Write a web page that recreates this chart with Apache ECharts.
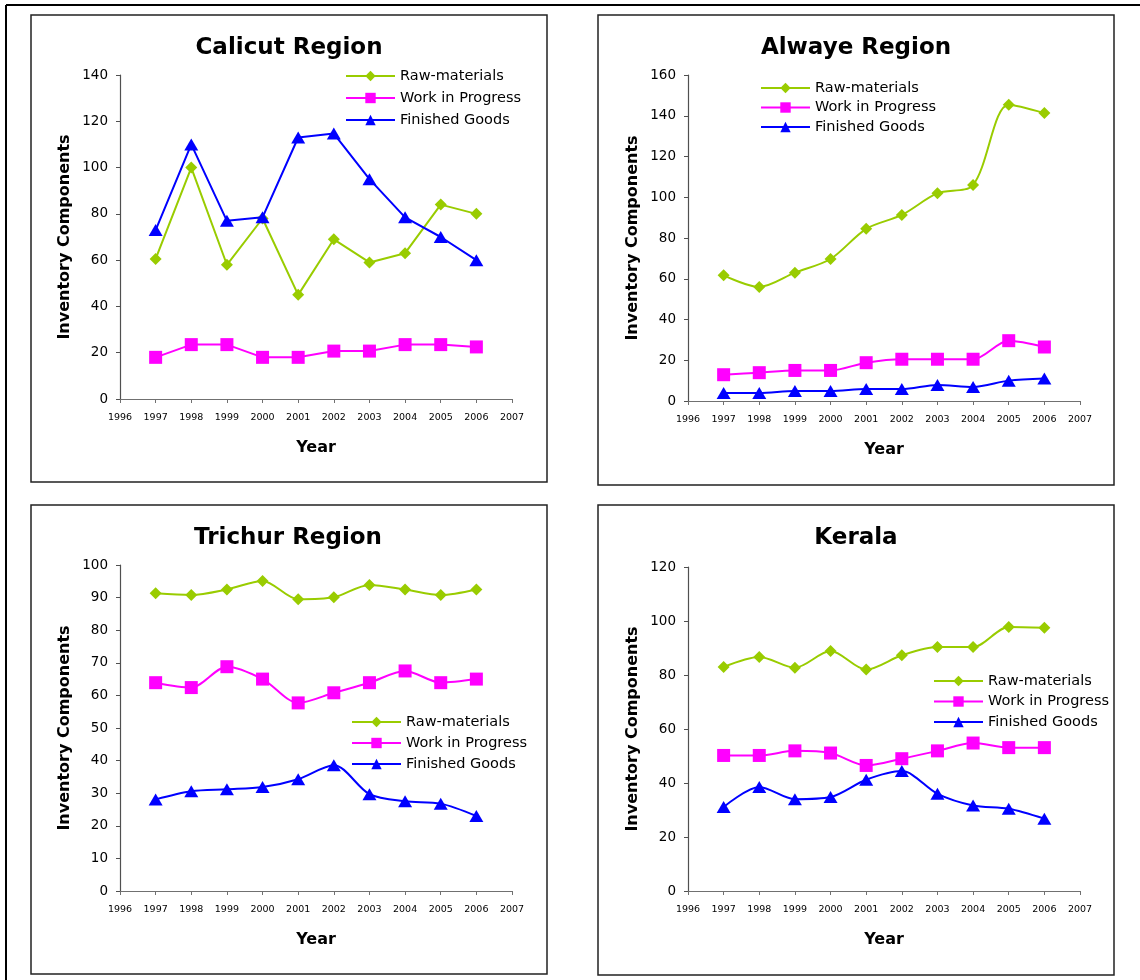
<!DOCTYPE html>
<html>
<head>
<meta charset="utf-8">
<script src="https://cdn.jsdelivr.net/npm/echarts@6/dist/echarts.min.js"></script>
<style>
  html, body { margin: 0; padding: 0; background: #ffffff; }
  #chart { width: 1140px; height: 980px; }
</style>
</head>
<body>
<div id="chart"></div>
<script>
// Years on the horizontal axis
const years = [1997, 1998, 1999, 2000, 2001, 2002, 2003, 2004, 2005, 2006];
const yearMin = 1996;
const yearMax = 2007;

// Series names
const seriesNames = ['Raw-materials', 'Work in Progress', 'Finished Goods'];

// Calicut Region
const calicutRaw = [60.5, 100, 58, 78, 45, 69, 59, 63, 84, 80];
const calicutWip = [18, 23.5, 23.5, 18, 18, 20.7, 20.7, 23.5, 23.5, 22.5];
const calicutFg  = [73, 110, 77, 78.5, 113, 114.7, 95, 78.5, 70, 60];

// Alwaye Region
const alwayeRaw = [61.7, 56, 63, 69.7, 84.5, 91.3, 102, 106, 145.4, 141.3];
const alwayeWip = [12.9, 13.9, 15, 15, 18.8, 20.5, 20.5, 20.5, 29.6, 26.5];
const alwayeFg  = [3.9, 3.9, 4.9, 4.9, 5.9, 5.9, 7.9, 6.9, 10, 11];

// Trichur Region
const trichurRaw = [91.3, 90.8, 92.5, 95.1, 89.5, 90.1, 93.9, 92.5, 90.8, 92.5];
const trichurWip = [63.9, 62.4, 68.8, 65, 57.7, 60.8, 63.9, 67.5, 63.9, 65];
const trichurFg  = [28.1, 30.6, 31.2, 31.9, 34.3, 38.6, 29.7, 27.5, 26.8, 23];

// Kerala
const keralaRaw = [83, 86.7, 82.7, 88.9, 82, 87.3, 90.4, 90.4, 97.8, 97.5];
const keralaWip = [50.2, 50.2, 51.9, 51.1, 46.5, 49, 51.9, 54.8, 53.1, 53.1];
const keralaFg  = [31.1, 38.5, 34, 34.8, 41.2, 44.4, 36, 31.7, 30.5, 26.8];

// Value axis ranges (max, step) per panel
const calicutAxis = [140, 20];
const alwayeAxis  = [160, 20];
const trichurAxis = [100, 10];
const keralaAxis  = [120, 20];

const COLORS = ['#99CC00', '#FF00FF', '#0000FF'];
const SYMBOLS = ['diamond', 'rect', 'triangle'];
const SYMBOL_SIZES = [[12, 12], [13, 13], [14, 12]];
const FONT = 'DejaVu Sans';

const panels = [
  { title: 'Calicut Region', data: [calicutRaw, calicutWip, calicutFg], axis: calicutAxis, smooth: false,
    box: [31, 15, 516, 467], grid: { left: 120, top: 75, width: 392, height: 324 },
    titlePos: [289, 48], legend: { left: 345, top: 68, gap: 6 } },
  { title: 'Alwaye Region', data: [alwayeRaw, alwayeWip, alwayeFg], axis: alwayeAxis, smooth: 0.3,
    box: [598, 15, 516, 470], grid: { left: 688, top: 75, width: 392, height: 326 },
    titlePos: [856, 48], legend: { left: 760, top: 80, gap: 3.5 } },
  { title: 'Trichur Region', data: [trichurRaw, trichurWip, trichurFg], axis: trichurAxis, smooth: 0.3,
    box: [31, 505, 516, 469], grid: { left: 120, top: 565, width: 392, height: 326 },
    titlePos: [288, 538], legend: { left: 351, top: 714, gap: 5 } },
  { title: 'Kerala', data: [keralaRaw, keralaWip, keralaFg], axis: keralaAxis, smooth: 0.3,
    box: [598, 505, 516, 470], grid: { left: 688, top: 567, width: 392, height: 324 },
    titlePos: [856, 538], legend: { left: 933, top: 673, gap: 4.5 } }
];

const option = {
  animation: false,
  backgroundColor: '#ffffff',
  title: [], grid: [], xAxis: [], yAxis: [], legend: [], series: [],
  graphic: [
    // outer frame lines
    { type: 'line', shape: { x1: 6, y1: 5, x2: 1140, y2: 5 }, style: { stroke: '#000', lineWidth: 2 }, z: 1 },
    { type: 'line', shape: { x1: 6, y1: 5, x2: 6, y2: 980 }, style: { stroke: '#000', lineWidth: 2 }, z: 1 }
  ]
};

panels.forEach((p, pi) => {
  const [bx, by, bw, bh] = p.box;
  option.graphic.push({
    type: 'rect', shape: { x: bx, y: by, width: bw, height: bh },
    style: { fill: 'none', stroke: '#222', lineWidth: 1.5 }, z: 1
  });

  option.title.push({
    text: p.title, left: p.titlePos[0], top: p.titlePos[1], padding: 0,
    textAlign: 'center', textVerticalAlign: 'middle',
    textStyle: { fontFamily: FONT, fontWeight: 'bold', fontSize: 23, color: '#000' }
  });

  option.grid.push(Object.assign({ containLabel: false }, p.grid));

  option.xAxis.push({
    type: 'value', gridIndex: pi, min: yearMin, max: yearMax, interval: 1,
    name: 'Year', nameLocation: 'middle', nameGap: 41,
    nameTextStyle: { fontFamily: FONT, fontWeight: 'bold', fontSize: 16, color: '#000' },
    axisLine: { show: true, lineStyle: { color: '#707070', width: 1.2 } },
    axisTick: { show: true, inside: false, length: 4, lineStyle: { color: '#707070' } },
    axisLabel: { margin: 14, fontFamily: FONT, fontSize: 9.5, color: '#000', formatter: v => String(v) },
    splitLine: { show: false }
  });

  option.yAxis.push({
    type: 'value', gridIndex: pi, min: 0, max: p.axis[0], interval: p.axis[1],
    name: 'Inventory Components', nameLocation: 'middle', nameGap: 47, nameRotate: 90,
    nameTextStyle: { fontFamily: FONT, fontWeight: 'bold', fontSize: 16, color: '#000' },
    axisLine: { show: true, lineStyle: { color: '#505050', width: 1.2 } },
    axisTick: { show: true, inside: false, length: 4, lineStyle: { color: '#505050' } },
    axisLabel: { margin: 12, fontFamily: FONT, fontSize: 13.5, color: '#000' },
    splitLine: { show: false }
  });

  option.legend.push({
    orient: 'vertical', left: p.legend.left, top: p.legend.top, padding: 0,
    itemGap: p.legend.gap, itemWidth: 49, itemHeight: 13,
    data: seriesNames.map(n => ({ name: n })),
    textStyle: { fontFamily: FONT, fontSize: 14.5, color: '#000', lineHeight: 16 },
    selectedMode: false
  });

  p.data.forEach((vals, si) => {
    option.series.push({
      type: 'line', name: seriesNames[si], xAxisIndex: pi, yAxisIndex: pi,
      data: years.map((y, i) => [y, vals[i]]),
      smooth: p.smooth,
      symbol: SYMBOLS[si], symbolSize: SYMBOL_SIZES[si], showAllSymbol: true,
      lineStyle: { color: COLORS[si], width: 2 },
      itemStyle: { color: COLORS[si] },
      emphasis: { disabled: true },
      z: 3 + si
    });
  });
});

const chart = echarts.init(document.getElementById('chart'), null, { renderer: 'canvas' });
chart.setOption(option);
</script>
</body>
</html>
